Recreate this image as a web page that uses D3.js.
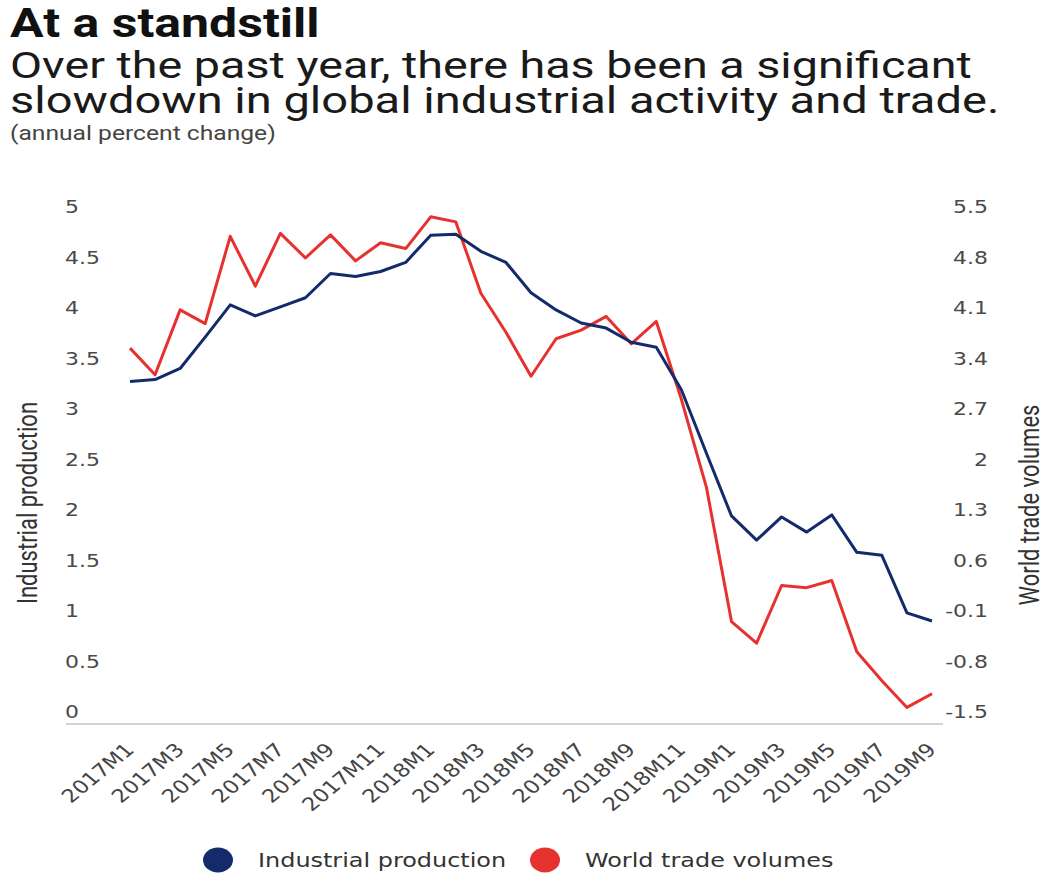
<!DOCTYPE html>
<html>
<head>
<meta charset="utf-8">
<script src="https://cdn.jsdelivr.net/npm/d3@7"></script>
<style>
  html, body { margin: 0; padding: 0; background: #fff; }
  svg { display: block; }
</style>
</head>
<body>
<div id="chart"></div>
<script>
const months = ['2017M1','2017M2','2017M3','2017M4','2017M5','2017M6','2017M7','2017M8','2017M9','2017M10','2017M11','2017M12',
  '2018M1','2018M2','2018M3','2018M4','2018M5','2018M6','2018M7','2018M8','2018M9','2018M10','2018M11','2018M12',
  '2019M1','2019M2','2019M3','2019M4','2019M5','2019M6','2019M7','2019M8','2019M9'];

const industrial = [3.39, 3.41, 3.52, 3.83, 4.15, 4.04, 4.13, 4.22, 4.46, 4.43, 4.48, 4.57,
  4.84, 4.85, 4.68, 4.57, 4.27, 4.10, 3.97, 3.92, 3.78, 3.73, 3.31, 2.68,
  2.06, 1.82, 2.05, 1.90, 2.07, 1.70, 1.67, 1.10, 1.02];

const trade = [3.71, 3.34, 4.24, 4.05, 5.26, 4.57, 5.30, 4.96, 5.28, 4.92, 5.17, 5.09,
  5.53, 5.46, 4.47, 3.93, 3.32, 3.84, 3.96, 4.15, 3.77, 4.08, 3.00, 1.78,
  -0.08, -0.38, 0.42, 0.39, 0.49, -0.50, -0.90, -1.27, -1.08];

const leftTicks = [0, 0.5, 1, 1.5, 2, 2.5, 3, 3.5, 4, 4.5, 5];
const rightTicks = [-1.5, -0.8, -0.1, 0.6, 1.3, 2, 2.7, 3.4, 4.1, 4.8, 5.5];
const xTickLabels = months.filter((d, i) => i % 2 === 0);

const seriesNames = ['Industrial production', 'World trade volumes'];
const colors = ['#132b6b', '#e6322f'];

// the original graphic is stretched sideways, so text gets the same stretch
const sx = 1.22;
const width = 1048, height = 873;
const plot = { left: 130, right: 932, top: 219, bottom: 724 };
const tickFont = 'DejaVu Sans, Verdana, sans-serif';

const svg = d3.select('#chart').append('svg')
  .attr('width', width)
  .attr('height', height);

function stretchedText(x, y, txt, k = sx) {
  return svg.append('text')
    .attr('transform', `translate(${x},${y}) scale(${k},1)`)
    .text(txt);
}

// titles
stretchedText(10, 37, 'At a standstill')
  .attr('font-family', 'Roboto, sans-serif').attr('font-weight', 700)
  .attr('font-size', 41).attr('fill', '#111');
stretchedText(10, 78, 'Over the past year, there has been a significant', 1.245)
  .attr('font-family', 'Roboto, sans-serif').attr('font-size', 37.5).attr('fill', '#1a1a1a');
stretchedText(10, 113, 'slowdown in global industrial activity and trade.', 1.255)
  .attr('font-family', 'Roboto, sans-serif').attr('font-size', 37.5).attr('fill', '#1a1a1a');
stretchedText(10, 140, '(annual percent change)')
  .attr('font-family', 'Roboto, sans-serif').attr('font-size', 20.2).attr('fill', '#444');

// scales
const x = d3.scalePoint().domain(months).range([plot.left, plot.right]);
const yLeft = d3.scaleLinear().domain([0, 5]).range([plot.bottom, plot.top]);
const yRight = d3.scaleLinear().domain([-1.5, 5.5]).range([plot.bottom, plot.top]);

// baseline
svg.append('line')
  .attr('x1', 66).attr('x2', 943)
  .attr('y1', plot.bottom).attr('y2', plot.bottom)
  .attr('stroke', '#d3d3d3').attr('stroke-width', 2);

// left axis
const gLeft = svg.append('g')
  .attr('transform', 'translate(65,0)')
  .call(d3.axisRight(yLeft).tickValues(leftTicks).tickSize(0).tickPadding(0).tickFormat(d => String(d)));
gLeft.select('.domain').remove();
gLeft.selectAll('text')
  .attr('x', 0)
  .attr('transform', `translate(0,-12) scale(${sx},1)`)
  .attr('font-family', tickFont).attr('font-size', 18).attr('fill', '#4a4a4a');

// right axis
const gRight = svg.append('g')
  .attr('transform', 'translate(988,0)')
  .call(d3.axisLeft(yRight).tickValues(rightTicks).tickSize(0).tickPadding(0).tickFormat(d => String(d)));
gRight.select('.domain').remove();
gRight.selectAll('text')
  .attr('x', 0)
  .attr('transform', `translate(0,-12) scale(${sx},1)`)
  .attr('font-family', tickFont).attr('font-size', 18).attr('fill', '#4a4a4a');

// x axis
const gX = svg.append('g')
  .attr('transform', `translate(0,${plot.bottom})`)
  .call(d3.axisBottom(x).tickValues(xTickLabels).tickSize(0).tickPadding(0));
gX.select('.domain').remove();
gX.selectAll('text')
  .attr('y', 0).attr('dy', null)
  .attr('text-anchor', 'end')
  .attr('transform', `translate(5,27) scale(${sx},1) rotate(-45)`)
  .attr('font-family', tickFont).attr('font-size', 18.5).attr('fill', '#444');

// axis titles
svg.append('text')
  .attr('transform', `translate(28,503) scale(${sx},1) rotate(-90)`)
  .attr('text-anchor', 'middle').attr('dominant-baseline', 'central')
  .attr('font-family', 'Roboto, sans-serif').attr('font-size', 22).attr('fill', '#333')
  .text('Industrial production');
svg.append('text')
  .attr('transform', `translate(1030,505) scale(${sx},1) rotate(-90)`)
  .attr('text-anchor', 'middle').attr('dominant-baseline', 'central')
  .attr('font-family', 'Roboto, sans-serif').attr('font-size', 22).attr('fill', '#333')
  .text('World trade volumes');

// lines
const lineLeft = d3.line().x((d, i) => x(months[i])).y(d => yLeft(d));
const lineRight = d3.line().x((d, i) => x(months[i])).y(d => yRight(d));

svg.append('path')
  .datum(trade)
  .attr('d', lineRight)
  .attr('fill', 'none').attr('stroke', colors[1]).attr('stroke-width', 3)
  .attr('stroke-linejoin', 'round');

svg.append('path')
  .datum(industrial)
  .attr('d', lineLeft)
  .attr('fill', 'none').attr('stroke', colors[0]).attr('stroke-width', 3)
  .attr('stroke-linejoin', 'round');

// legend
const legendX = [218, 545];
seriesNames.forEach((name, i) => {
  svg.append('ellipse')
    .attr('cx', legendX[i]).attr('cy', 860)
    .attr('rx', 15).attr('ry', 12.5)
    .attr('fill', colors[i]);
  stretchedText(legendX[i] + 40, 867, name)
    .attr('font-family', tickFont).attr('font-size', 19.6).attr('fill', '#333');
});
</script>
</body>
</html>
